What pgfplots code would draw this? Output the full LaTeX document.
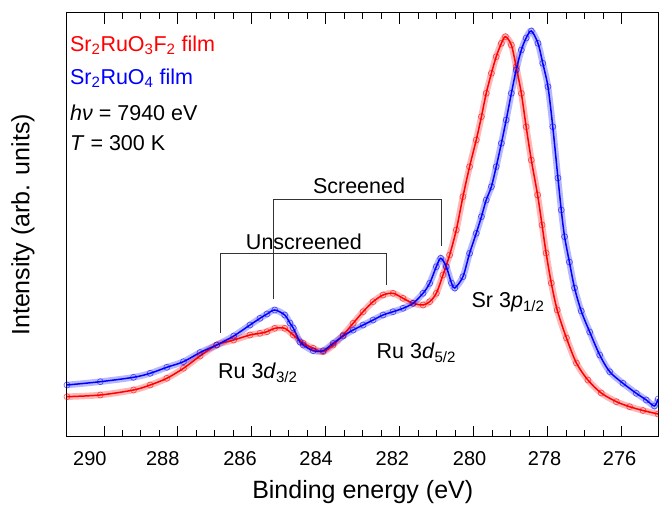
\documentclass[border=0pt]{standalone}
\usepackage{fontspec}
\setmainfont{Liberation Sans}
\usepackage{pgfplots}
\pgfplotsset{compat=1.18}
\pgfplotstableread{
x y
291.00 40.0
290.10 41.7
289.20 46.7
288.75 51.7
288.30 58.4
287.85 68.4
287.40 80.7
286.95 91.7
286.49 96.7
286.05 101.7
285.78 103.4
285.59 105.0
285.38 108.4
285.11 108.4
284.88 101.7
284.61 93.4
284.34 88.4
284.07 85.0
283.80 91.7
283.53 101.7
283.26 113.4
282.99 125.0
282.72 135.0
282.45 141.7
282.18 143.4
281.91 138.4
281.64 133.4
281.37 131.7
281.19 135.0
281.01 143.4
280.83 161.7
280.65 181.7
280.47 206.7
280.29 240.0
280.11 270.0
279.93 296.7
279.79 320.0
279.66 343.4
279.52 363.4
279.39 380.0
279.25 393.4
279.14 400.0
278.98 391.7
278.85 370.0
278.71 343.4
278.58 310.0
278.44 276.7
278.27 241.7
278.15 211.7
278.04 183.7
277.90 153.7
277.74 126.7
277.49 98.7
277.22 73.7
276.91 56.7
276.55 43.7
276.14 35.0
275.78 30.0
275.42 26.2
275.01 22.7
}\redtab
\pgfplotstableread{
x y
291.00 51.7
290.10 55.0
289.20 59.4
288.75 63.4
288.30 69.4
287.85 75.0
287.40 84.2
286.95 91.7
286.49 100.7
286.05 111.7
285.78 118.4
285.59 122.7
285.38 126.7
285.11 121.7
284.97 113.7
284.88 108.7
284.70 94.7
284.61 91.7
284.34 86.0
284.07 86.0
283.80 93.4
283.53 100.7
283.26 106.7
282.99 111.7
282.72 116.7
282.45 121.7
282.18 125.0
281.91 128.4
281.64 133.4
281.37 143.4
281.19 153.4
281.01 170.0
280.89 178.4
280.74 170.0
280.60 153.7
280.51 148.7
280.29 160.0
280.11 183.4
279.93 203.4
279.79 220.0
279.66 236.7
279.52 250.0
279.39 270.0
279.25 293.4
279.12 316.7
278.98 343.4
278.85 366.7
278.71 386.7
278.58 398.7
278.44 405.7
278.26 393.4
278.13 373.4
277.99 350.0
277.86 310.0
277.72 258.7
277.63 226.7
277.54 200.0
277.41 174.7
277.27 148.7
277.09 125.7
276.86 104.7
276.59 81.7
276.32 65.0
275.96 53.4
275.60 43.4
275.33 36.7
275.11 30.7
275.01 37.7
}\bluetab
\begin{document}
\begin{tikzpicture}
\useasboundingbox (-67pt,-67.3pt) rectangle (592pt,436.7pt);
\begin{axis}[
  scale only axis, width=591.5pt, height=423.7pt,
  at={(0,0)}, anchor=south west,
  x dir=reverse, xmin=275, xmax=291, ymin=0, ymax=423.7,
  xtick={276,278,...,290}, minor x tick num=3,
  xticklabels={},
  extra x ticks={290.38,288.41,286.32,284.26,282.20,280.11,278.08,276.05},
  extra x tick labels={290,288,286,284,282,280,278,276},
  extra x tick style={major tick length=0pt, tick style={draw=none}},
  ytick=\empty,
  tick align=inside, xtick pos=both,
  major tick length=11pt, minor tick length=6.5pt,
  axis line style={line width=1pt},
  tick style={line width=0.9pt, black},
  ticklabel style={font=\fontsize{20}{24}\selectfont},
  /pgf/number format/assume math mode=true,
  xticklabel style={yshift=-11pt},
  xlabel={Binding energy (eV)}, ylabel={Intensity (arb. units)},
  label style={font=\fontsize{25}{30}\selectfont},
  xlabel style={at={(axis description cs:0.5,-0.1447)}, anchor=base},
  ylabel style={at={(axis description cs:-0.0634,0.5)}, anchor=base},
  clip=true,
]
\addplot[red, line width=6.5pt, opacity=0.28, smooth, no marks] table {\redtab};
\addplot[blue, line width=6.5pt, opacity=0.28, smooth, no marks] table {\bluetab};
\addplot[red, line width=1.5pt, smooth, mark=o, mark size=3pt,
  mark options={line width=0.7pt, draw opacity=0.6, solid}] table {\redtab};
\addplot[blue, line width=1.5pt, smooth, mark=o, mark size=3pt,
  mark options={line width=0.7pt, draw opacity=0.6, solid}] table {\bluetab};
\draw[line width=0.9pt, black!80] (axis cs:286.85,104) -- (axis cs:286.85,183.4) -- (axis cs:282.36,183.4) -- (axis cs:282.36,151.7);
\draw[line width=0.9pt, black!80] (axis cs:285.41,137.7) -- (axis cs:285.41,237.4) -- (axis cs:280.87,237.4) -- (axis cs:280.87,190.7);
\begin{scope}[every node/.style={font=\fontsize{21.5}{26}\selectfont}]
\node[anchor=west, inner sep=0, text=red] at (rel axis cs:0.005,0.924) {Sr\textsubscript{2}RuO\textsubscript{3}F\textsubscript{2} film};
\node[anchor=west, inner sep=0, text=blue] at (rel axis cs:0.005,0.846) {Sr\textsubscript{2}RuO\textsubscript{4} film};
\node[anchor=west, inner sep=0] at (rel axis cs:0.005,0.764) {\textit{hν} = 7940 eV};
\node[anchor=west, inner sep=0] at (rel axis cs:0.005,0.693) {\textit{T} = 300 K};
\node at (axis cs:283.10,251) {Screened};
\node at (axis cs:284.59,195) {Unscreened};
\node at (axis cs:285.84,63.7) {Ru 3\textit{d}\textsubscript{3/2}};
\node at (axis cs:281.55,83.7) {Ru 3\textit{d}\textsubscript{5/2}};
\node at (axis cs:279.07,134.7) {Sr 3\textit{p}\textsubscript{1/2}};
\end{scope}
\end{axis}
\end{tikzpicture}
\end{document}
